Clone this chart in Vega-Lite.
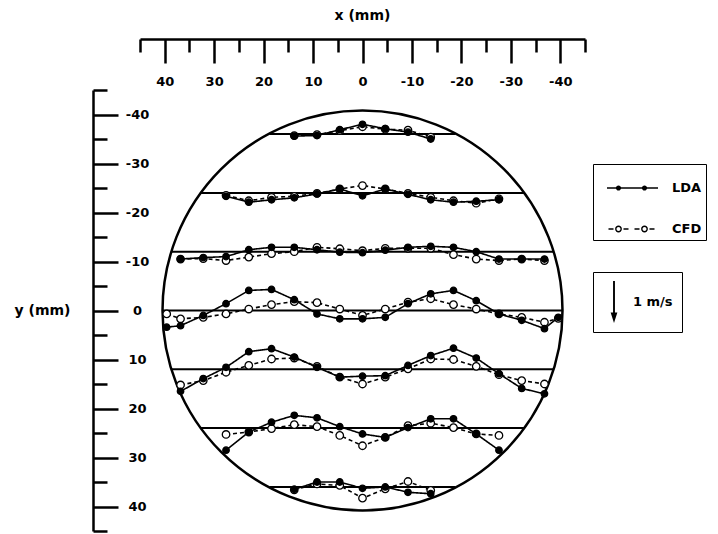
{
"$schema": "https://vega.github.io/schema/vega-lite/v6.json",
"width": 445, "height": 441,
"autosize": {"type": "none"},
"padding": {"left": 140, "top": 90, "right": 133, "bottom": 3},
"background": "white",
"config": {"view": {"stroke": null}, "font": "DejaVu Sans"},
"resolve": {"scale": {"shape": "independent"}},
"datasets": {
"circle": [{"x": 0, "y": 0}],
"legendmodels": [{"x": 0, "y": 0, "model": "LDA"}, {"x": 0, "y": 0, "model": "CFD"}],
"scalebar": [{"x": 0, "y": 0, "scale": "1 m/s"}],
"chords": [
{"y": -36, "x": 18.8, "x2": -18.8},{"y": -24, "x": 32.7, "x2": -32.7},{"y": -12, "x": 38.7, "x2": -38.7},{"y": 0, "x": 40.45, "x2": -40.45},{"y": 12, "x": 38.7, "x2": -38.7},{"y": 24, "x": 32.7, "x2": -32.7},{"y": 36, "x": 18.8, "x2": -18.8}],
"profiles": [
{"profile":-36,"model":"LDA","x":13.8,"y":-35.6},{"profile":-36,"model":"LDA","x":9.2,"y":-35.7},{"profile":-36,"model":"LDA","x":4.6,"y":-36.9},{"profile":-36,"model":"LDA","x":0,"y":-38.0},{"profile":-36,"model":"LDA","x":-4.6,"y":-37.1},{"profile":-36,"model":"LDA","x":-9.2,"y":-36.4},{"profile":-36,"model":"LDA","x":-13.8,"y":-35.0},
{"profile":-36,"model":"CFD","x":13.8,"y":-35.7},{"profile":-36,"model":"CFD","x":9.2,"y":-35.9},{"profile":-36,"model":"CFD","x":4.6,"y":-36.7},{"profile":-36,"model":"CFD","x":0,"y":-37.5},{"profile":-36,"model":"CFD","x":-4.6,"y":-37.0},{"profile":-36,"model":"CFD","x":-9.2,"y":-36.8},{"profile":-36,"model":"CFD","x":-13.8,"y":-35.4},
{"profile":-24,"model":"LDA","x":27.6,"y":-23.3},{"profile":-24,"model":"LDA","x":23,"y":-22.1},{"profile":-24,"model":"LDA","x":18.4,"y":-22.6},{"profile":-24,"model":"LDA","x":13.8,"y":-23.0},{"profile":-24,"model":"LDA","x":9.2,"y":-23.8},{"profile":-24,"model":"LDA","x":4.6,"y":-24.8},{"profile":-24,"model":"LDA","x":0,"y":-23.4},{"profile":-24,"model":"LDA","x":-4.6,"y":-24.8},{"profile":-24,"model":"LDA","x":-9.2,"y":-23.7},{"profile":-24,"model":"LDA","x":-13.8,"y":-22.6},{"profile":-24,"model":"LDA","x":-18.4,"y":-22.1},{"profile":-24,"model":"LDA","x":-23,"y":-22.3},{"profile":-24,"model":"LDA","x":-27.6,"y":-22.6},
{"profile":-24,"model":"CFD","x":27.6,"y":-23.5},{"profile":-24,"model":"CFD","x":23,"y":-22.4},{"profile":-24,"model":"CFD","x":18.4,"y":-23.1},{"profile":-24,"model":"CFD","x":13.8,"y":-23.3},{"profile":-24,"model":"CFD","x":9.2,"y":-23.9},{"profile":-24,"model":"CFD","x":4.6,"y":-24.8},{"profile":-24,"model":"CFD","x":0,"y":-25.5},{"profile":-24,"model":"CFD","x":-4.6,"y":-24.8},{"profile":-24,"model":"CFD","x":-9.2,"y":-23.9},{"profile":-24,"model":"CFD","x":-13.8,"y":-23.1},{"profile":-24,"model":"CFD","x":-18.4,"y":-22.4},{"profile":-24,"model":"CFD","x":-23,"y":-21.9},{"profile":-24,"model":"CFD","x":-27.6,"y":-22.8},
{"profile":-12,"model":"LDA","x":36.8,"y":-10.5},{"profile":-12,"model":"LDA","x":32.2,"y":-10.8},{"profile":-12,"model":"LDA","x":27.6,"y":-11.0},{"profile":-12,"model":"LDA","x":23,"y":-12.4},{"profile":-12,"model":"LDA","x":18.4,"y":-12.9},{"profile":-12,"model":"LDA","x":13.8,"y":-12.9},{"profile":-12,"model":"LDA","x":9.2,"y":-12.4},{"profile":-12,"model":"LDA","x":4.6,"y":-11.9},{"profile":-12,"model":"LDA","x":0,"y":-11.8},{"profile":-12,"model":"LDA","x":-4.6,"y":-12.3},{"profile":-12,"model":"LDA","x":-9.2,"y":-12.9},{"profile":-12,"model":"LDA","x":-13.8,"y":-13.1},{"profile":-12,"model":"LDA","x":-18.4,"y":-12.9},{"profile":-12,"model":"LDA","x":-23,"y":-12.0},{"profile":-12,"model":"LDA","x":-27.6,"y":-10.5},{"profile":-12,"model":"LDA","x":-32.2,"y":-10.5},{"profile":-12,"model":"LDA","x":-36.8,"y":-10.5},
{"profile":-12,"model":"CFD","x":36.8,"y":-10.5},{"profile":-12,"model":"CFD","x":32.2,"y":-10.6},{"profile":-12,"model":"CFD","x":27.6,"y":-10.2},{"profile":-12,"model":"CFD","x":23,"y":-10.9},{"profile":-12,"model":"CFD","x":18.4,"y":-11.6},{"profile":-12,"model":"CFD","x":13.8,"y":-12.0},{"profile":-12,"model":"CFD","x":9.2,"y":-12.9},{"profile":-12,"model":"CFD","x":4.6,"y":-12.6},{"profile":-12,"model":"CFD","x":0,"y":-12.2},{"profile":-12,"model":"CFD","x":-4.6,"y":-12.7},{"profile":-12,"model":"CFD","x":-9.2,"y":-12.7},{"profile":-12,"model":"CFD","x":-13.8,"y":-12.7},{"profile":-12,"model":"CFD","x":-18.4,"y":-11.4},{"profile":-12,"model":"CFD","x":-23,"y":-10.5},{"profile":-12,"model":"CFD","x":-27.6,"y":-10.2},{"profile":-12,"model":"CFD","x":-32.2,"y":-10.5},{"profile":-12,"model":"CFD","x":-36.8,"y":-10.2},
{"profile":0,"model":"LDA","x":39.6,"y":3.4},{"profile":0,"model":"LDA","x":36.8,"y":3.1},{"profile":0,"model":"LDA","x":32.2,"y":1.0},{"profile":0,"model":"LDA","x":27.6,"y":-1.4},{"profile":0,"model":"LDA","x":23,"y":-4.1},{"profile":0,"model":"LDA","x":18.4,"y":-4.3},{"profile":0,"model":"LDA","x":13.8,"y":-2.2},{"profile":0,"model":"LDA","x":9.2,"y":0.7},{"profile":0,"model":"LDA","x":4.6,"y":1.7},{"profile":0,"model":"LDA","x":0,"y":1.7},{"profile":0,"model":"LDA","x":-4.6,"y":1.4},{"profile":0,"model":"LDA","x":-9.2,"y":-1.4},{"profile":0,"model":"LDA","x":-13.8,"y":-3.4},{"profile":0,"model":"LDA","x":-18.4,"y":-4.1},{"profile":0,"model":"LDA","x":-23,"y":-2.0},{"profile":0,"model":"LDA","x":-27.6,"y":0.7},{"profile":0,"model":"LDA","x":-32.2,"y":2.0},{"profile":0,"model":"LDA","x":-36.8,"y":3.7},{"profile":0,"model":"LDA","x":-39.6,"y":1.4},
{"profile":0,"model":"CFD","x":39.6,"y":0.7},{"profile":0,"model":"CFD","x":36.8,"y":1.7},{"profile":0,"model":"CFD","x":32.2,"y":1.4},{"profile":0,"model":"CFD","x":27.6,"y":0.7},{"profile":0,"model":"CFD","x":23,"y":-0.3},{"profile":0,"model":"CFD","x":18.4,"y":-1.2},{"profile":0,"model":"CFD","x":13.8,"y":-1.8},{"profile":0,"model":"CFD","x":9.2,"y":-1.6},{"profile":0,"model":"CFD","x":4.6,"y":-0.3},{"profile":0,"model":"CFD","x":0,"y":1.0},{"profile":0,"model":"CFD","x":-4.6,"y":-0.3},{"profile":0,"model":"CFD","x":-9.2,"y":-1.7},{"profile":0,"model":"CFD","x":-13.8,"y":-2.4},{"profile":0,"model":"CFD","x":-18.4,"y":-1.2},{"profile":0,"model":"CFD","x":-23,"y":-0.3},{"profile":0,"model":"CFD","x":-27.6,"y":0.7},{"profile":0,"model":"CFD","x":-32.2,"y":1.4},{"profile":0,"model":"CFD","x":-36.8,"y":2.4},{"profile":0,"model":"CFD","x":-39.6,"y":1.6},
{"profile":12,"model":"LDA","x":36.8,"y":16.5},{"profile":12,"model":"LDA","x":32.2,"y":13.9},{"profile":12,"model":"LDA","x":27.6,"y":11.6},{"profile":12,"model":"LDA","x":23,"y":8.4},{"profile":12,"model":"LDA","x":18.4,"y":7.8},{"profile":12,"model":"LDA","x":13.8,"y":9.5},{"profile":12,"model":"LDA","x":9.2,"y":11.6},{"profile":12,"model":"LDA","x":4.6,"y":13.6},{"profile":12,"model":"LDA","x":0,"y":13.4},{"profile":12,"model":"LDA","x":-4.6,"y":13.3},{"profile":12,"model":"LDA","x":-9.2,"y":11.2},{"profile":12,"model":"LDA","x":-13.8,"y":9.2},{"profile":12,"model":"LDA","x":-18.4,"y":7.7},{"profile":12,"model":"LDA","x":-23,"y":9.7},{"profile":12,"model":"LDA","x":-27.6,"y":12.9},{"profile":12,"model":"LDA","x":-32.2,"y":15.9},{"profile":12,"model":"LDA","x":-36.8,"y":17.0},
{"profile":12,"model":"CFD","x":36.8,"y":15.2},{"profile":12,"model":"CFD","x":32.2,"y":14.3},{"profile":12,"model":"CFD","x":27.6,"y":12.6},{"profile":12,"model":"CFD","x":23,"y":11.2},{"profile":12,"model":"CFD","x":18.4,"y":9.9},{"profile":12,"model":"CFD","x":13.8,"y":9.7},{"profile":12,"model":"CFD","x":9.2,"y":11.4},{"profile":12,"model":"CFD","x":4.6,"y":13.6},{"profile":12,"model":"CFD","x":0,"y":15.0},{"profile":12,"model":"CFD","x":-4.6,"y":13.6},{"profile":12,"model":"CFD","x":-9.2,"y":11.9},{"profile":12,"model":"CFD","x":-13.8,"y":9.9},{"profile":12,"model":"CFD","x":-18.4,"y":10.0},{"profile":12,"model":"CFD","x":-23,"y":11.4},{"profile":12,"model":"CFD","x":-27.6,"y":13.1},{"profile":12,"model":"CFD","x":-32.2,"y":14.3},{"profile":12,"model":"CFD","x":-36.8,"y":15.0},
{"profile":24,"model":"LDA","x":27.6,"y":28.5},{"profile":24,"model":"LDA","x":23,"y":24.8},{"profile":24,"model":"LDA","x":18.4,"y":22.8},{"profile":24,"model":"LDA","x":13.8,"y":21.4},{"profile":24,"model":"LDA","x":9.2,"y":21.9},{"profile":24,"model":"LDA","x":4.6,"y":23.7},{"profile":24,"model":"LDA","x":0,"y":25.2},{"profile":24,"model":"LDA","x":-4.6,"y":25.9},{"profile":24,"model":"LDA","x":-9.2,"y":23.9},{"profile":24,"model":"LDA","x":-13.8,"y":22.1},{"profile":24,"model":"LDA","x":-18.4,"y":22.1},{"profile":24,"model":"LDA","x":-23,"y":25.2},{"profile":24,"model":"LDA","x":-27.6,"y":28.5},
{"profile":24,"model":"CFD","x":27.6,"y":25.3},{"profile":24,"model":"CFD","x":23,"y":24.8},{"profile":24,"model":"CFD","x":18.4,"y":24.1},{"profile":24,"model":"CFD","x":13.8,"y":23.3},{"profile":24,"model":"CFD","x":9.2,"y":23.7},{"profile":24,"model":"CFD","x":4.6,"y":25.5},{"profile":24,"model":"CFD","x":0,"y":27.6},{"profile":24,"model":"CFD","x":-4.6,"y":25.9},{"profile":24,"model":"CFD","x":-9.2,"y":23.5},{"profile":24,"model":"CFD","x":-13.8,"y":23.0},{"profile":24,"model":"CFD","x":-18.4,"y":23.9},{"profile":24,"model":"CFD","x":-23,"y":25.2},{"profile":24,"model":"CFD","x":-27.6,"y":25.5},
{"profile":36,"model":"LDA","x":13.8,"y":36.5},{"profile":36,"model":"LDA","x":9.2,"y":35.0},{"profile":36,"model":"LDA","x":4.6,"y":35.0},{"profile":36,"model":"LDA","x":0,"y":36.3},{"profile":36,"model":"LDA","x":-4.6,"y":36.0},{"profile":36,"model":"LDA","x":-9.2,"y":37.1},{"profile":36,"model":"LDA","x":-13.8,"y":37.4},
{"profile":36,"model":"CFD","x":13.8,"y":36.6},{"profile":36,"model":"CFD","x":9.2,"y":35.4},{"profile":36,"model":"CFD","x":4.6,"y":35.7},{"profile":36,"model":"CFD","x":0,"y":38.3},{"profile":36,"model":"CFD","x":-4.6,"y":36.4},{"profile":36,"model":"CFD","x":-9.2,"y":34.9},{"profile":36,"model":"CFD","x":-13.8,"y":36.7}
]
},
"encoding": {
"x": {"field": "x", "type": "quantitative",
  "scale": {"domain": [45, -45], "nice": false, "zero": false},
  "axis": {"orient": "bottom", "offset": -492, "grid": false,
    "values": [45,40,35,30,25,20,15,10,5,0,-5,-10,-15,-20,-25,-30,-35,-40,-45],
    "domainColor": "black", "domainWidth": 2.5, "tickColor": "black", "tickWidth": 2.5,
    "tickSize": {"condition": {"test": "datum.value % 10 === 0", "value": 24}, "value": 13},
    "labelExpr": "datum.value % 10 === 0 ? '' + datum.value : ''",
    "labelFont": "DejaVu Sans", "labelFontWeight": "bold", "labelFontSize": 13, "labelColor": "black",
    "labelPadding": 12, "labelFlush": false, "labelOverlap": false,
    "title": "x (mm)", "titleFont": "DejaVu Sans", "titleFontWeight": "bold", "titleFontSize": 14, "titleColor": "black",
    "titleX": 222, "titleY": -24, "titleAlign": "center", "titleBaseline": "middle", "titleAnchor": null}},
"y": {"field": "y", "type": "quantitative",
  "scale": {"domain": [-45, 45], "nice": false, "zero": false, "reverse": true},
  "axis": {"orient": "right", "offset": -492, "grid": false,
    "values": [-45,-40,-35,-30,-25,-20,-15,-10,-5,0,5,10,15,20,25,30,35,40,45],
    "domainColor": "black", "domainWidth": 2.5, "tickColor": "black", "tickWidth": 2.5,
    "tickSize": {"condition": {"test": "datum.value % 10 === 0", "value": 25}, "value": 14},
    "labelExpr": "datum.value % 10 === 0 ? '' + datum.value : ''",
    "labelFont": "DejaVu Sans", "labelFontWeight": "bold", "labelFontSize": 13, "labelColor": "black",
    "labelAlign": "center", "labelPadding": 19, "labelFlush": false, "labelOverlap": false,
    "title": "y (mm)", "titleFont": "DejaVu Sans", "titleFontWeight": "bold", "titleFontSize": 14, "titleColor": "black",
    "titleAngle": 0, "titleX": -51, "titleY": 220, "titleAlign": "center", "titleBaseline": "middle", "titleAnchor": null}}
},
"layer": [
{"data": {"name": "circle"},
 "mark": {"type": "point", "shape": "circle", "size": 160000, "filled": false, "stroke": "black", "strokeWidth": 2.5, "opacity": 1}},
{"data": {"name": "chords"},
 "mark": {"type": "rule", "color": "black", "strokeWidth": 2},
 "encoding": {"x2": {"field": "x2"}}},
{"data": {"name": "profiles"},
 "mark": {"type": "line", "color": "black", "strokeWidth": 1.6},
 "encoding": {
   "detail": [{"field": "profile", "type": "nominal"}, {"field": "model", "type": "nominal"}],
   "strokeDash": {"field": "model", "type": "nominal", "scale": {"domain": ["LDA", "CFD"], "range": [[1, 0], [4, 3]]}, "legend": null}}},
{"data": {"name": "profiles"},
 "mark": {"type": "point", "shape": "circle", "filled": true, "stroke": "black", "strokeWidth": 1.3, "opacity": 1},
 "encoding": {
   "order": {"field": "model", "type": "nominal", "sort": "ascending"},
   "size": {"field": "model", "type": "nominal", "scale": {"domain": ["LDA", "CFD"], "range": [42, 56]}, "legend": null},
   "fill": {"field": "model", "type": "nominal", "scale": {"domain": ["LDA", "CFD"], "range": ["black", "white"]}, "legend": null}}},
{"data": {"name": "legendmodels"},
 "mark": {"type": "point", "filled": true, "color": "black", "opacity": 0},
 "encoding": {
   "shape": {"field": "model", "type": "nominal",
     "scale": {"domain": ["LDA", "CFD"], "range": [
       "M-1.275,-0.04L1.275,-0.04L1.275,0.04L-1.275,0.04Z M-0.83,0A0.13,0.13,0,1,1,-0.57,0A0.13,0.13,0,1,1,-0.83,0Z M0.47,0A0.13,0.13,0,1,1,0.73,0A0.13,0.13,0,1,1,0.47,0Z",
       "M-1.2,-0.04L-0.95,-0.04L-0.95,0.04L-1.2,0.04Z M-0.45,-0.04L-0.2,-0.04L-0.2,0.04L-0.45,0.04Z M0.1,-0.04L0.35,-0.04L0.35,0.04L0.1,0.04Z M0.85,-0.04L1.1,-0.04L1.1,0.04L0.85,0.04Z M-0.87,0A0.17,0.17,0,1,1,-0.53,0A0.17,0.17,0,1,1,-0.87,0Z M-0.8,0A0.1,0.1,0,1,0,-0.6,0A0.1,0.1,0,1,0,-0.8,0Z M0.43,0A0.17,0.17,0,1,1,0.77,0A0.17,0.17,0,1,1,0.43,0Z M0.5,0A0.1,0.1,0,1,0,0.7,0A0.1,0.1,0,1,0,0.5,0Z"]},
     "legend": {"title": null, "orient": "none", "legendX": 453, "legendY": 74, "direction": "vertical",
       "padding": 4, "rowPadding": 14, "strokeColor": "black",
       "symbolSize": 1600, "symbolStrokeWidth": 0, "symbolFillColor": "black",
       "symbolOffset": 15.5, "labelOffset": 19.5,
       "labelFont": "DejaVu Sans", "labelFontWeight": "bold", "labelFontSize": 13, "labelColor": "black",
       "encode": {
         "legend": {"update": {"strokeWidth": {"value": 2}}},
         "symbols": {"update": {"opacity": {"value": 1}, "fill": {"value": "black"}, "strokeWidth": {"value": 0}, "size": {"value": 1600}}}}}}}},
{"data": {"name": "scalebar"},
 "mark": {"type": "point", "filled": true, "color": "black", "opacity": 0},
 "encoding": {
   "shape": {"field": "scale", "type": "nominal", "scale": {"range": ["M-0.045,-1L0.045,-1L0.045,0.5L0.16,0.5L0,1L-0.16,0.5L-0.045,0.5Z"]},
     "legend": {"title": null, "orient": "none", "legendX": 453, "legendY": 182, "direction": "vertical",
       "padding": 9, "rowPadding": 0, "strokeColor": "black",
       "symbolSize": 1764, "symbolStrokeWidth": 0, "symbolFillColor": "black",
       "symbolOffset": -9, "labelOffset": -2,
       "labelFont": "DejaVu Sans", "labelFontWeight": "bold", "labelFontSize": 13, "labelColor": "black",
       "encode": {
         "legend": {"update": {"strokeWidth": {"value": 2}}},
         "symbols": {"update": {"opacity": {"value": 1}, "fill": {"value": "black"}, "strokeWidth": {"value": 0}, "size": {"value": 1764}}}}}}}}
]
}
